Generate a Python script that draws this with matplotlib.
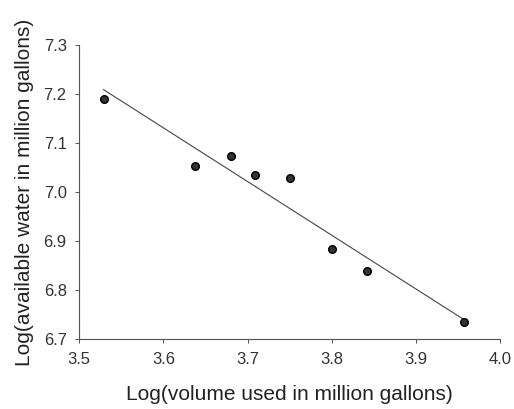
import numpy as np
import matplotlib
matplotlib.use("Agg")
import matplotlib.pyplot as plt

plt.rcParams['font.family'] = ['Liberation Sans', 'DejaVu Sans']

# log(volume used), log(available water)
log_volume = [3.529, 3.638, 3.680, 3.709, 3.751, 3.800, 3.842, 3.957]
log_water = [7.190, 7.054, 7.074, 7.034, 7.028, 6.884, 6.838, 6.734]

x_ticks = [3.5, 3.6, 3.7, 3.8, 3.9, 4.0]
y_ticks = [6.7, 6.8, 6.9, 7.0, 7.1, 7.2, 7.3]

fig = plt.figure(figsize=(5.14, 4.09), dpi=100)
ax = fig.add_axes([0.154, 0.171, 0.819, 0.719])

# least squares trend line
slope, icpt = np.polyfit(log_volume, log_water, 1)
xs = np.array([min(log_volume), max(log_volume)])
ax.plot(xs, slope * xs + icpt, color='#444444', lw=0.8)

ax.plot(log_volume, log_water, 'o', ms=5.5, mfc='#333333', mec='black', mew=1.0)

ax.set_xlim(3.5, 4.0)
ax.set_ylim(6.7, 7.3)
ax.set_xticks(x_ticks)
ax.set_yticks(y_ticks)
ax.set_xticklabels(['%.1f' % v for v in x_ticks])
ax.set_yticklabels(['%.1f' % v for v in y_ticks])

for s in ['top', 'right']:
    ax.spines[s].set_visible(False)
for s in ['left', 'bottom']:
    ax.spines[s].set_color('#555555')
    ax.spines[s].set_linewidth(0.8)
    ax.spines[s].set_linestyle((0, (1, 0.5)))

ax.tick_params(length=3, width=0.7, color='#555555', labelsize=12,
               labelcolor='#333333', pad=6)

ax.set_xlabel('Log(volume used in million gallons)', fontsize=15,
              color='#222222', labelpad=13)
ax.set_ylabel('Log(available water in million gallons)', fontsize=15,
              color='#222222', labelpad=7)

fig.savefig('out.png', dpi=100)
